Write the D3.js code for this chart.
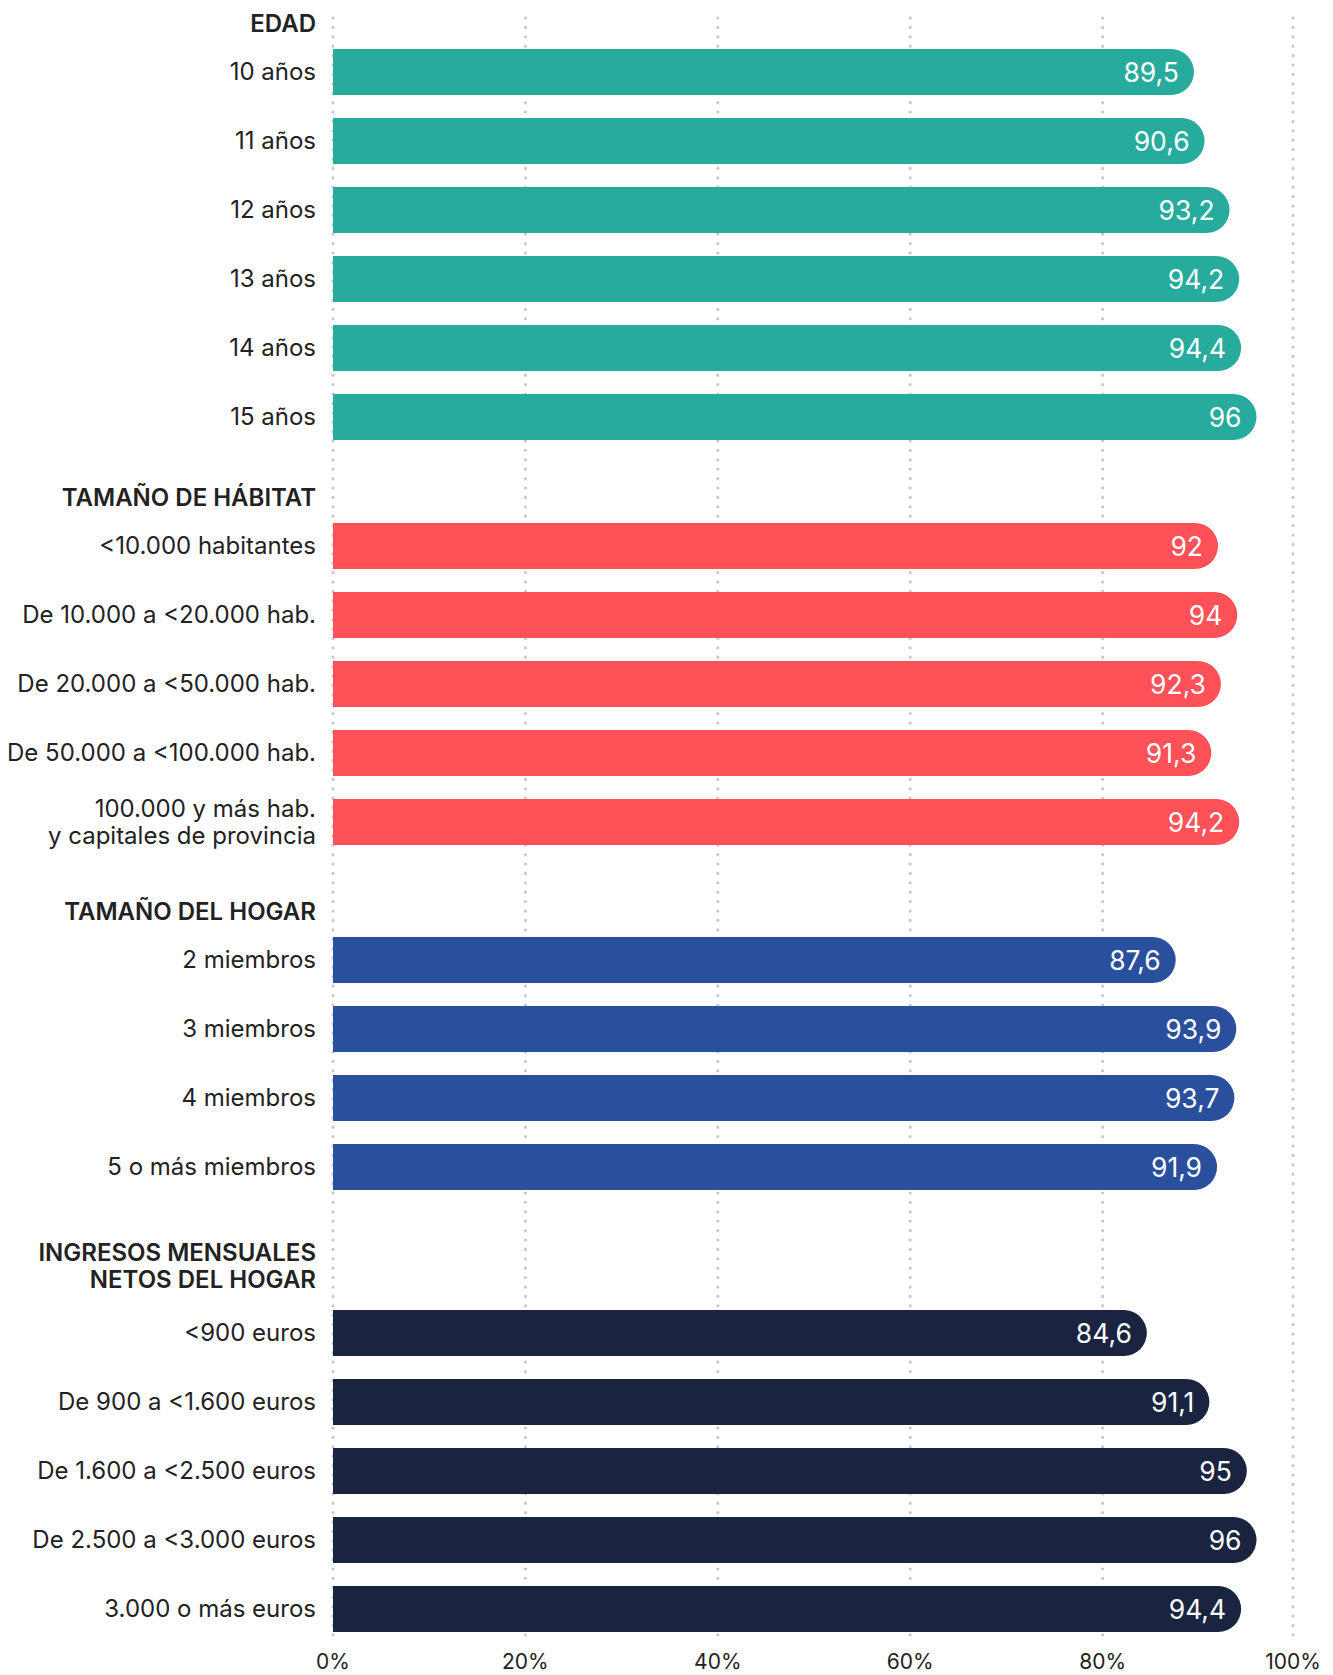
<!DOCTYPE html>
<html>
<head>
<meta charset="utf-8">
<script src="https://cdn.jsdelivr.net/npm/d3@7"></script>
<style>
	body { margin: 0; background: #fff; }
	text { font-family: Inter, "Noto Sans", sans-serif; }
</style>
</head>
<body>
<div id="chart"></div>
<script>
// --- data ---
var groupTitles = ["EDAD", "TAMAÑO DE HÁBITAT", "TAMAÑO DEL HOGAR", "INGRESOS MENSUALES\nNETOS DEL HOGAR"];
var groupColors = ["#27ab9d", "#ff5157", "#2a4f9d", "#1a2441"];

var edadLabels = ["10 años", "11 años", "12 años", "13 años", "14 años", "15 años"];
var edadValues = [89.5, 90.6, 93.2, 94.2, 94.4, 96];

var habitatLabels = ["<10.000 habitantes", "De 10.000 a <20.000 hab.", "De 20.000 a <50.000 hab.",
	"De 50.000 a <100.000 hab.", "100.000 y más hab.\ny capitales de provincia"];
var habitatValues = [92, 94, 92.3, 91.3, 94.2];

var hogarLabels = ["2 miembros", "3 miembros", "4 miembros", "5 o más miembros"];
var hogarValues = [87.6, 93.9, 93.7, 91.9];

var ingresosLabels = ["<900 euros", "De 900 a <1.600 euros", "De 1.600 a <2.500 euros",
	"De 2.500 a <3.000 euros", "3.000 o más euros"];
var ingresosValues = [84.6, 91.1, 95, 96, 94.4];

var tickValues = [0, 20, 40, 60, 80, 100];

// --- layout ---
var W = 1333, H = 1675;
var barH = 46, step = 69, lineH = 27;
var labelX = 316;

var groups = [
	{ title: groupTitles[0], labels: edadLabels, values: edadValues, color: groupColors[0] },
	{ title: groupTitles[1], labels: habitatLabels, values: habitatValues, color: groupColors[1] },
	{ title: groupTitles[2], labels: hogarLabels, values: hogarValues, color: groupColors[2] },
	{ title: groupTitles[3], labels: ingresosLabels, values: ingresosValues, color: groupColors[3] }
];

var heads = [], rows = [];
var cursor = 32, lastBottom = 0, lastLines = 1;
groups.forEach(function (g, gi) {
	var lines = g.title.split("\n");
	if (gi > 0) {
		cursor = lastBottom + 66 + 9 * (lastLines - 1) + 5 * (lines.length - 1);
	}
	heads.push({ lines: lines, y: cursor });
	var top = cursor + (lines.length - 1) * (lineH + 5) + 17;
	g.labels.forEach(function (l, i) {
		rows.push({ label: l.split("\n"), value: g.values[i], color: g.color, top: top + i * step });
	});
	var last = rows[rows.length - 1];
	lastBottom = last.top + barH;
	lastLines = last.label.length;
});

var x = d3.scaleLinear().domain([0, 100]).range([333, 1295]);
var fmt = d3.formatLocale({ decimal: ",", thousands: ".", grouping: [3], currency: ["", "€"] }).format("~f");

var svg = d3.select("#chart").append("svg")
	.attr("width", W)
	.attr("height", H);

// dotted gridlines
svg.append("g").attr("class", "grid")
	.selectAll("line").data(tickValues).enter().append("line")
	.attr("x1", function (d) { return Math.min(x(d), 1293); })
	.attr("x2", function (d) { return Math.min(x(d), 1293); })
	.attr("y1", 18)
	.attr("y2", 1638)
	.attr("stroke", "#c8c8c8")
	.attr("stroke-width", 3.2)
	.attr("stroke-linecap", "round")
	.attr("stroke-dasharray", "0 9.4");

// axis labels
svg.append("g").attr("class", "axis")
	.selectAll("text").data(tickValues).enter().append("text")
	.attr("x", function (d) { return Math.min(x(d), 1293); })
	.attr("y", 1669)
	.attr("text-anchor", "middle")
	.attr("font-size", 21)
	.attr("fill", "#222")
	.text(function (d) { return d + "%"; });

// group headers
var hd = svg.append("g").attr("class", "heads")
	.selectAll("text").data(heads).enter().append("text")
	.attr("text-anchor", "end")
	.attr("font-size", 24)
	.attr("font-weight", 600)
	.attr("fill", "#222");
hd.selectAll("tspan").data(function (d) {
	return d.lines.map(function (l, i) { return { t: l, y: d.y + i * lineH }; });
}).enter().append("tspan")
	.attr("x", labelX)
	.attr("y", function (d) { return d.y; })
	.text(function (d) { return d.t; });

// bars: square left end, round right end
function pill(d) {
	var x0 = x(0), x1 = x(d.value), r = barH / 2, y = d.top;
	return ["M", x0, y, "H", x1 - r, "A", r, r, 0, 0, 1, x1 - r, y + barH, "H", x0, "Z"].join(" ");
}

var row = svg.append("g").attr("class", "rows")
	.selectAll("g").data(rows).enter().append("g");

row.append("path")
	.attr("d", pill)
	.attr("fill", function (d) { return d.color; });

row.append("text")
	.attr("x", function (d) { return x(d.value) - 15; })
	.attr("y", function (d) { return d.top + barH / 2 + 9.5; })
	.attr("text-anchor", "end")
	.attr("font-size", 26.5)
	.attr("fill", "#fff")
	.text(function (d) { return fmt(d.value); });

var lab = row.append("text")
	.attr("text-anchor", "end")
	.attr("font-size", 24)
	.attr("fill", "#222");
lab.selectAll("tspan").data(function (d) {
	var c = d.top + barH / 2 + 8 - (d.label.length - 1) * lineH / 2;
	return d.label.map(function (l, i) { return { t: l, y: c + i * lineH }; });
}).enter().append("tspan")
	.attr("x", labelX)
	.attr("y", function (d) { return d.y; })
	.text(function (d) { return d.t; });
</script>
</body>
</html>
